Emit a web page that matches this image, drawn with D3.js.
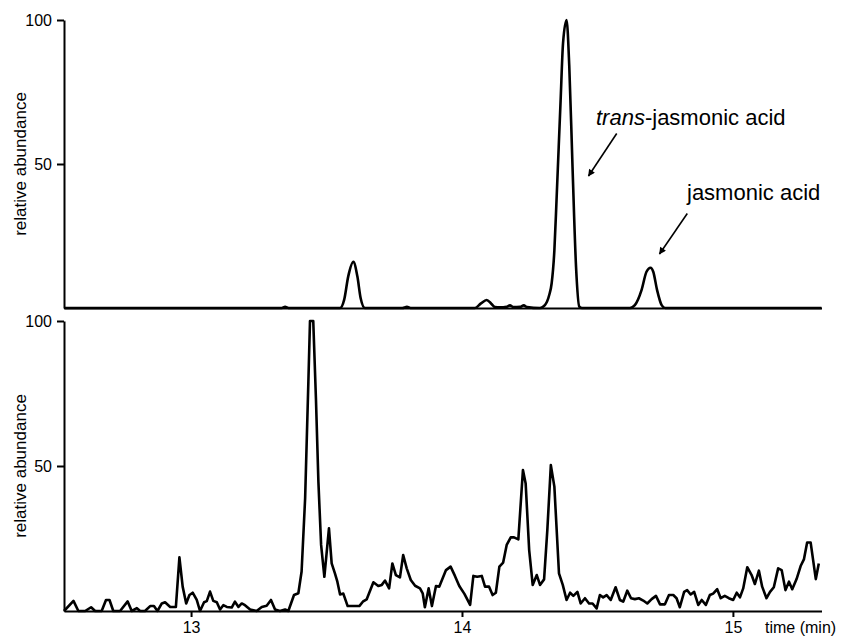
<!DOCTYPE html>
<html>
<head>
<meta charset="utf-8">
<script src="https://cdn.jsdelivr.net/npm/d3@7"></script>
<style>
  body { margin: 0; background: #fff; }
  svg { display: block; font-family: "Liberation Sans", Arial, sans-serif; }
</style>
</head>
<body>
<div id="chart"></div>
<script>
var width = 847,
    height = 636;

// top trace: standards (time in min, relative abundance)
var topTime = [12.531, 13.30, 13.335, 13.347, 13.36, 13.50, 13.550, 13.565, 13.580, 13.599, 13.614, 13.626, 13.642,
    13.78, 13.797, 13.81, 14.048, 14.07, 14.091, 14.108, 14.122, 14.14, 14.165, 14.177, 14.19, 14.215, 14.228, 14.24,
    14.288, 14.306, 14.322, 14.331, 14.341, 14.349, 14.364, 14.373, 14.386, 14.396, 14.408, 14.421, 14.433, 14.443,
    14.62, 14.638, 14.663, 14.681, 14.696, 14.706, 14.720, 14.737, 14.750, 15.327];
var topAbundance = [0, 0, 0, 0.4, 0, 0, 0, 2.8, 10.9, 16, 10.9, 3.4, 0,
    0, 0.4, 0, 0, 1.6, 2.8, 1.5, 0.3, 0.2, 0.4, 0.9, 0.3, 0.4, 0.9, 0.3,
    0, 1, 4.5, 8.6, 20, 37.5, 72, 92, 100, 84, 49, 14.3, 0.5, 0,
    0, 1, 6.3, 12.6, 14, 12.6, 6.3, 1, 0, 0];

// bottom trace: sample
var bottomTime = [12.531, 12.566, 12.584, 12.609, 12.631, 12.646, 12.670, 12.686, 12.699, 12.713, 12.738, 12.766,
    12.781, 12.800, 12.812, 12.830, 12.849, 12.863, 12.876, 12.892, 12.904, 12.923, 12.944, 12.957, 12.969, 12.982,
    12.994, 13.006, 13.021, 13.033, 13.048, 13.058, 13.070, 13.082, 13.095, 13.107, 13.119, 13.132, 13.150, 13.162,
    13.175, 13.187, 13.199, 13.218, 13.242, 13.261, 13.279, 13.295, 13.310, 13.328, 13.347, 13.359, 13.380, 13.396,
    13.408, 13.421, 13.433, 13.439, 13.451, 13.461, 13.470, 13.480, 13.492, 13.509, 13.519, 13.531, 13.540, 13.550,
    13.562, 13.578, 13.599, 13.621, 13.634, 13.648, 13.673, 13.691, 13.704, 13.716, 13.731, 13.743, 13.756, 13.771,
    13.783, 13.796, 13.811, 13.827, 13.845, 13.855, 13.863, 13.877, 13.889, 13.904, 13.916, 13.941, 13.958, 13.974,
    13.990, 14.009, 14.030, 14.042, 14.056, 14.073, 14.085, 14.100, 14.113, 14.125, 14.138, 14.152, 14.165, 14.180,
    14.192, 14.208, 14.225, 14.235, 14.248, 14.261, 14.276, 14.288, 14.303, 14.315, 14.328, 14.341, 14.358, 14.372,
    14.386, 14.399, 14.411, 14.426, 14.438, 14.454, 14.469, 14.482, 14.497, 14.509, 14.521, 14.534, 14.549, 14.567,
    14.583, 14.595, 14.610, 14.624, 14.638, 14.653, 14.669, 14.684, 14.700, 14.716, 14.731, 14.749, 14.764, 14.780,
    14.792, 14.804, 14.820, 14.831, 14.844, 14.857, 14.872, 14.885, 14.900, 14.915, 14.927, 14.942, 14.955, 14.970,
    14.985, 15.001, 15.014, 15.026, 15.038, 15.053, 15.069, 15.081, 15.096, 15.108, 15.124, 15.137, 15.151, 15.167,
    15.180, 15.194, 15.207, 15.219, 15.235, 15.250, 15.262, 15.274, 15.287, 15.306, 15.317];
var bottomAbundance = [0, 3.5, 0, 0, 1.3, 0, 0, 3.8, 3.8, 0, 0, 3.3,
    0, 1, 0, 0, 1.7, 1.7, 0, 2.6, 3, 1.4, 1.4, 18.5, 8.4, 2.6,
    5.5, 6.3, 3.8, 0, 3, 3.4, 6.7, 3.5, 3, 0.5, 2, 1.4, 1.2, 3.2,
    1.4, 2.6, 2, 0.5, 0, 1.4, 1.8, 3.8, 0.5, 0, 0.5, 0, 5.5, 6.1,
    13.6, 38.8, 79, 100, 100, 73, 44.6, 22.8, 11.8, 28.5, 16.4, 13, 10.1, 5.7,
    6, 1.7, 1.7, 1.7, 3.2, 4, 9.9, 8.6, 9, 10.5, 7.8, 16.4, 12.4, 11.6,
    19.3, 14.7, 10.7, 8.7, 7.8, 6.1, 1.3, 7.8, 1.7, 8.6, 8.4, 14.1, 15.3, 12.1,
    8.6, 5.9, 2.1, 12.1, 11.8, 12.1, 8.4, 8.4, 5.5, 6.3, 15.3, 16.7, 22.8, 25.4,
    25.4, 24.7, 48.6, 44, 21, 9, 12.4, 9, 10.9, 27.9, 50.3, 42.9, 13, 9,
    3.8, 6.3, 5.2, 6.6, 2.6, 4.4, 2.6, 2.6, 0.9, 5.5, 4.7, 5.5, 3.8, 8.2,
    3.8, 3.2, 7, 4.4, 4.1, 4.4, 3.6, 2.6, 4.1, 5.2, 2.3, 2.3, 5.5, 5.5,
    4.4, 1.3, 6.6, 7.2, 5.7, 6.6, 2.1, 3.8, 2.1, 5.5, 6, 7.5, 4.4, 5.2,
    4.4, 3.8, 6.3, 4.7, 7.8, 15.1, 12.4, 9.3, 13.9, 8.4, 4.4, 6.6, 8.2, 14.7,
    14.1, 7.2, 10.1, 7.5, 11, 15.5, 17.8, 23.6, 23.6, 11, 16.4];

var xTicks = [13, 14, 15];
var yTicks = [50, 100];

var svg = d3.select("#chart").append("svg")
    .attr("width", width)
    .attr("height", height);

var x = d3.scaleLinear().domain([12.531, 15.327]).range([64, 821.5]);
var yTop = d3.scaleLinear().domain([0, 100]).range([308, 20]);
var yBot = d3.scaleLinear().domain([0, 100]).range([611, 321]);

// arrow head
svg.append("defs").append("marker")
    .attr("id", "head")
    .attr("viewBox", "0 0 10 10")
    .attr("refX", 9).attr("refY", 5)
    .attr("markerWidth", 9).attr("markerHeight", 7)
    .attr("markerUnits", "userSpaceOnUse")
    .attr("orient", "auto")
  .append("path")
    .attr("d", "M0,0L10,5L0,10z")
    .attr("fill", "#000");

function styleAxis(g){
    g.selectAll(".domain").attr("stroke-width", 2).attr("stroke", "#000");
    g.selectAll(".tick line").attr("stroke-width", 2).attr("stroke", "#000");
    g.selectAll(".tick text").attr("font-size", "16px").attr("fill", "#000")
        .attr("font-family", "Liberation Sans, Arial, sans-serif");
}

// panels
var panels = [
    {y: yTop, time: topTime, val: topAbundance, ticks: [], curve: d3.curveMonotoneX},
    {y: yBot, time: bottomTime, val: bottomAbundance, ticks: xTicks, curve: d3.curveLinear}
];

panels.forEach(function(p){
    var yAx = svg.append("g")
        .attr("transform", "translate(64,0)")
        .call(d3.axisLeft(p.y).tickValues(yTicks).tickSize(7).tickSizeOuter(0).tickPadding(5));
    styleAxis(yAx);

    var xAx = svg.append("g")
        .attr("transform", "translate(0," + p.y(0) + ")")
        .call(d3.axisBottom(x).tickValues(p.ticks).tickSize(6).tickSizeOuter(0).tickPadding(5).tickFormat(d3.format("d")));
    styleAxis(xAx);

    var line = d3.line()
        .x(function(d, i){ return x(p.time[i]); })
        .y(function(d){ return p.y(d); })
        .curve(p.curve);

    svg.append("path")
        .datum(p.val)
        .attr("fill", "none")
        .attr("stroke", "#000")
        .attr("stroke-width", 2.6)
        .attr("stroke-linejoin", "round")
        .attr("d", line);

    svg.append("text")
        .attr("transform", "translate(26," + ((p.y(0) + p.y(100)) / 2) + ") rotate(-90)")
        .attr("text-anchor", "middle")
        .attr("font-size", "17px")
        .text("relative abundance");
});

// x label
svg.append("text")
    .attr("x", 765).attr("y", 633)
    .attr("font-size", "16px")
    .text("time (min)");

// annotations
var t1 = svg.append("text")
    .attr("x", 596).attr("y", 125)
    .attr("font-size", "22px");
t1.append("tspan").attr("font-style", "italic").text("trans");
t1.append("tspan").text("-jasmonic acid");

svg.append("text")
    .attr("x", 687).attr("y", 200)
    .attr("font-size", "22px")
    .text("jasmonic acid");

svg.append("line")
    .attr("x1", 616.7).attr("y1", 133.5).attr("x2", 588.5).attr("y2", 176)
    .attr("stroke", "#000").attr("stroke-width", 1.6)
    .attr("marker-end", "url(#head)");

svg.append("line")
    .attr("x1", 687.3).attr("y1", 213.5).attr("x2", 659.5).attr("y2", 254)
    .attr("stroke", "#000").attr("stroke-width", 1.6)
    .attr("marker-end", "url(#head)");
</script>
</body>
</html>
